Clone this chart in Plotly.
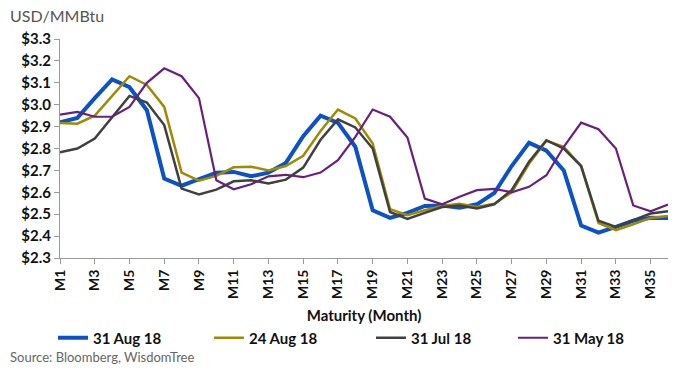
import plotly.graph_objects as go

months = [f"M{i}" for i in range(1, 37)]
tick_labels = [f"M{i}" for i in range(1, 37, 2)]

aug31 = [2.92, 2.94, 3.03, 3.115, 3.08, 2.975, 2.663, 2.63, 2.66, 2.689,
         2.693, 2.673, 2.69, 2.734, 2.856, 2.95, 2.917, 2.808, 2.518, 2.483,
         2.506, 2.538, 2.54, 2.53, 2.545, 2.597, 2.72, 2.826, 2.79, 2.70,
         2.448, 2.416, 2.442, 2.47, 2.484, 2.483]
aug24 = [2.917, 2.913, 2.95, 3.04, 3.13, 3.09, 2.99, 2.69, 2.653, 2.675,
         2.714, 2.717, 2.70, 2.72, 2.767, 2.88, 2.978, 2.937, 2.823, 2.523,
         2.495, 2.518, 2.538, 2.548, 2.533, 2.548, 2.60, 2.73, 2.835, 2.808,
         2.72, 2.46, 2.427, 2.454, 2.483, 2.492]
jul31 = [2.783, 2.80, 2.845, 2.94, 3.04, 3.01, 2.907, 2.617, 2.59, 2.612,
         2.65, 2.655, 2.64, 2.658, 2.713, 2.84, 2.933, 2.896, 2.80, 2.51,
         2.478, 2.506, 2.533, 2.54, 2.526, 2.545, 2.61, 2.74, 2.838, 2.80,
         2.72, 2.47, 2.442, 2.473, 2.503, 2.513]
may31 = [2.955, 2.967, 2.945, 2.945, 2.99, 3.10, 3.166, 3.13, 3.03, 2.655,
         2.614, 2.637, 2.673, 2.68, 2.669, 2.69, 2.747, 2.853, 2.978, 2.945,
         2.85, 2.571, 2.545, 2.58, 2.61, 2.616, 2.60, 2.625, 2.678, 2.808,
         2.918, 2.888, 2.80, 2.54, 2.513, 2.544]

series = [
    ("31 Aug 18", aug31, "#0a52c8", 4),
    ("24 Aug 18", aug24, "#a08a00", 2.5),
    ("31 Jul 18", jul31, "#404040", 2.5),
    ("31 May 18", may31, "#6a1f80", 2.2),
]

FONT = "Lato"
W, H = 679, 370
ML, MR, MT, MB = 60, 11, 39, 112
PW, PH = W - ML - MR, H - MT - MB


def px_x(p):
    return (p - ML) / PW


def px_y(p):
    return 1 - (p - MT) / PH


legend_ids = ["legend", "legend2", "legend3", "legend4"]
legend_px = [53, 209, 371, 513]

fig = go.Figure()
for (name, vals, color, w), lid in zip(series, legend_ids):
    fig.add_trace(go.Scatter(x=months, y=vals, mode="lines", name=name,
                             legend=lid, line=dict(color=color, width=w)))

layout = dict(
    width=W, height=H,
    margin=dict(l=ML, r=MR, t=MT, b=MB),
    paper_bgcolor="white", plot_bgcolor="white",
    font=dict(family=FONT, color="#111111"),
    showlegend=True,
    xaxis=dict(
        type="category", categoryorder="array", categoryarray=months,
        range=[0, 35],
        tickmode="array", tickvals=tick_labels, ticktext=tick_labels,
        tickangle=-90, ticks="outside", ticklen=5, tickcolor="#9a9a9a",
        showline=True, linecolor="#9a9a9a", linewidth=1,
        showgrid=False, zeroline=False,
        tickfont=dict(family=FONT, size=14, color="#111111", weight="bold"),
        title=dict(text="Maturity (Month)", standoff=12,
                   font=dict(family=FONT, size=15, color="#111111", weight="bold")),
    ),
    yaxis=dict(
        range=[2.3, 3.3], dtick=0.1, tick0=2.3,
        tickformat="$.1f",
        ticks="outside", ticklen=5, tickcolor="#9a9a9a",
        showline=True, linecolor="#9a9a9a", linewidth=1,
        showgrid=False, zeroline=False,
        tickfont=dict(family=FONT, size=15, color="#111111", weight="bold"),
    ),
    annotations=[
        dict(text="USD/MMBtu", x=px_x(8), y=px_y(15), xref="paper", yref="paper",
             showarrow=False, xanchor="left", yanchor="middle",
             font=dict(family=FONT, size=16, color="#555555")),
        dict(text="Source: Bloomberg, WisdomTree", x=px_x(8), y=px_y(357),
             xref="paper", yref="paper",
             showarrow=False, xanchor="left", yanchor="middle",
             font=dict(family=FONT, size=13, color="#666666")),
    ],
)
for lid, lx in zip(legend_ids, legend_px):
    layout[lid] = dict(orientation="h", x=px_x(lx), xanchor="left",
                       y=px_y(338), yanchor="middle",
                       font=dict(family=FONT, size=15, color="#111111", weight="bold"),
                       itemwidth=30, bgcolor="rgba(0,0,0,0)")
fig.update_layout(**layout)

fig.write_html("out.html", config={"displayModeBar": False},
               post_script="document.body.style.margin='0';document.body.style.padding='0';")
